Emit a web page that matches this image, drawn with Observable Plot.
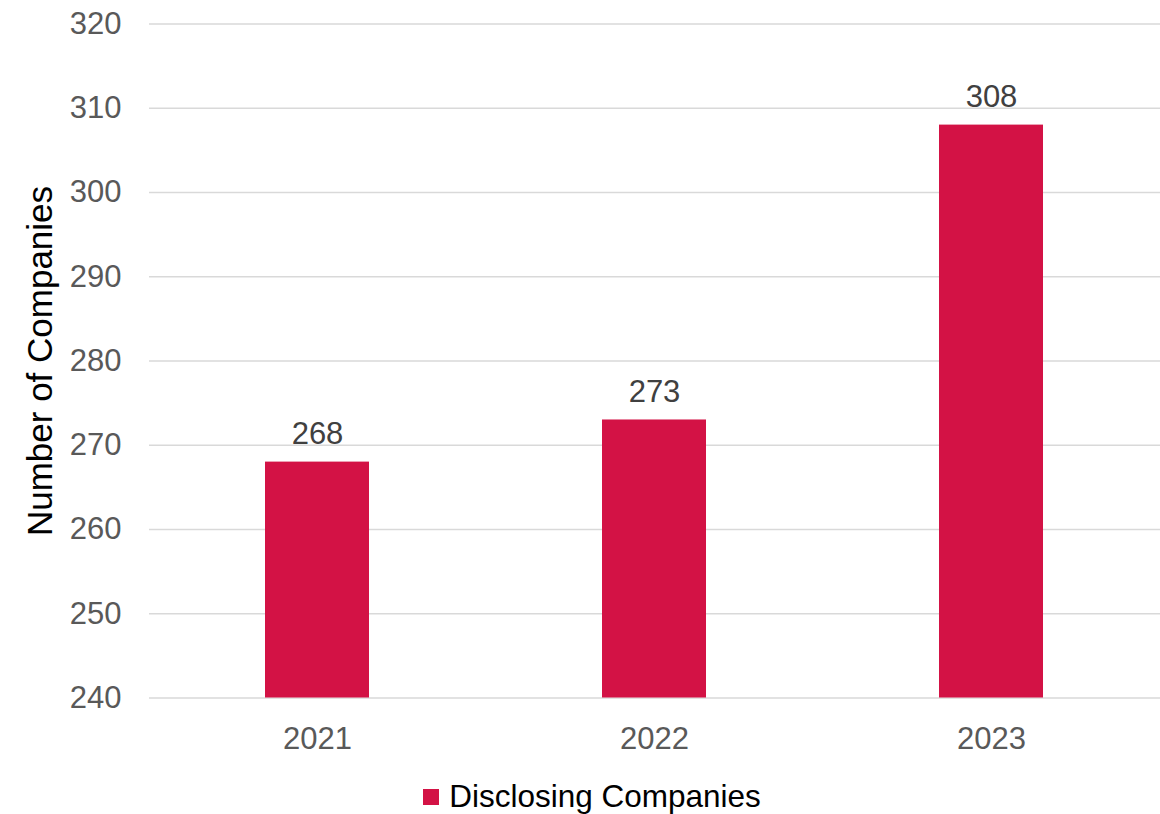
<!DOCTYPE html>
<html>
<head>
<meta charset="utf-8">
<script src="https://cdn.jsdelivr.net/npm/d3@7"></script>
<script src="https://cdn.jsdelivr.net/npm/@observablehq/plot@0.6"></script>
<style>
  html, body { margin: 0; padding: 0; background: #fff; }
  body { width: 1160px; height: 814px; position: relative; overflow: hidden; font-family: "Liberation Sans", Arial, sans-serif; }
  #legend { position: absolute; left: 0; top: 778px; width: 1160px; display: flex; justify-content: center; align-items: center; font-size: 31.5px; color: #000; }
  #legend .sw { width: 16px; height: 16px; margin-right: 10px; margin-left: 24px; }
</style>
</head>
<body>
<div id="chart"></div>
<div id="legend"></div>
<script>
const years = ["2021", "2022", "2023"];
const values = [268, 273, 308];
const seriesName = "Disclosing Companies";
const yLabel = "Number of Companies";
const yDomain = [240, 320];
const yTicks = [240, 250, 260, 270, 280, 290, 300, 310, 320];
const barColor = "#D31245";

const data = years.map((y, i) => ({year: y, value: values[i]}));

const chart = Plot.plot({
  width: 1160,
  height: 776,
  marginLeft: 149,
  marginRight: 0,
  marginTop: 23.5,
  marginBottom: 78.5,
  style: {fontFamily: "Liberation Sans, Arial, sans-serif", background: "#fff"},
  x: {domain: years, paddingInner: 0.69, paddingOuter: 0.345, label: null},
  y: {domain: yDomain, label: null},
  marks: [
    Plot.gridY(yTicks, {stroke: "#d9d9d9", strokeOpacity: 1, strokeWidth: 1.5}),
    Plot.barY(data, {x: "year", y1: yDomain[0], y2: "value", fill: barColor}),
    Plot.text(data, {x: "year", y: "value", text: d => String(d.value), lineAnchor: "bottom", dy: -18, fill: "#404040", fontSize: 31}),
    Plot.axisY({ticks: yTicks, tickSize: 0, tickPadding: 28, fontSize: 31, color: "#595959", label: null}),
    Plot.axisX({tickSize: 0, tickPadding: 28.5, fontSize: 31, color: "#595959", label: null}),
    Plot.text([yLabel], {text: d => d, frameAnchor: "left", textAnchor: "middle", dx: -109, rotate: -90, fill: "#000", fontSize: 35})
  ]
});
document.getElementById("chart").appendChild(chart);

const lg = document.getElementById("legend");
const sw = document.createElement("span");
sw.className = "sw";
sw.style.background = barColor;
const lt = document.createElement("span");
lt.textContent = seriesName;
lg.appendChild(sw);
lg.appendChild(lt);
</script>
</body>
</html>
